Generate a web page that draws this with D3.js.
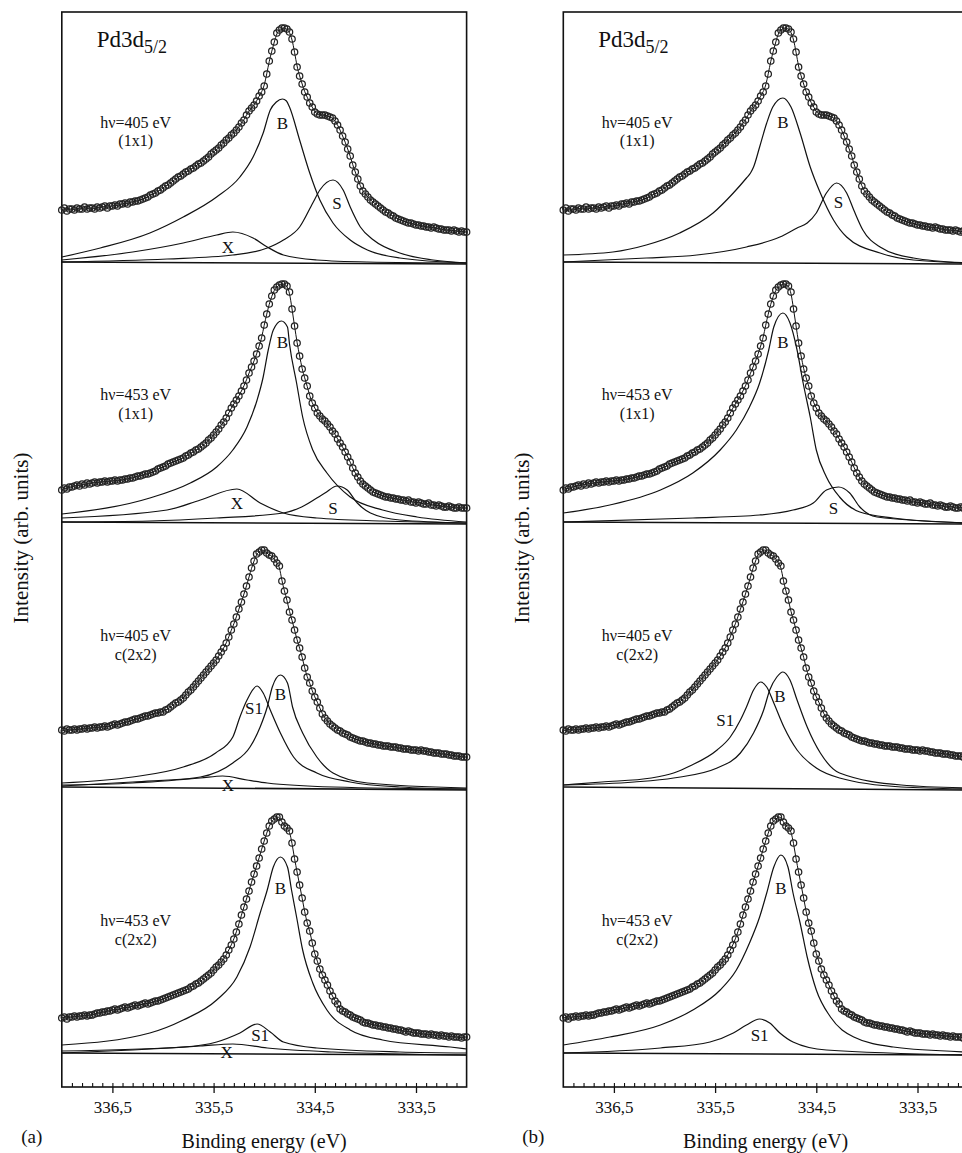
<!DOCTYPE html>
<html><head><meta charset="utf-8">
<script src="https://cdn.jsdelivr.net/npm/d3@7"></script>
<style>
body{margin:0;background:#fff}
text{font-family:"Liberation Serif","Times New Roman",serif;fill:#111}
</style>
</head><body><svg id="c" width="962" height="1153"></svg>
<script>
// ---------- DATA ----------
const energyStart = 337.0, energyStep = 0.025; // measured points, decreasing binding energy
const data1 = [54,56,53,55, 55,54,56,55, 55,57,55,56, 56,55,57,56, 57,58,56,58, 58,59,58,60, 60,61,60,62, 62,63,63,64, 65,66,67,69, 70,71,73,74,
 76,78,79,81, 83,85,87,88, 90,92,93,95, 96,98,100,101, 103,105,107,110, 112,114,116,119, 121,124,126,129, 131,134,137,141, 144,149,153,156, 159,163,168,172,
 178,190,203,213, 222,231,234,236, 236,235,232,225, 212,197,188,180, 172,167,161,157, 152,150,149,149, 149,148,147,146, 143,139,134,128, 122,115,108,99, 92,85,78,73,
 70,67,64,62, 60,58,56,54, 52,51,49,48, 46,45,44,43, 42,41,41,40, 39,39,38,38, 37,37,36,37, 36,35,35,34, 34,34,33,34, 33,32,33,32, 32];
const data2 = [34,36,35,37, 37,38,39,38, 40,39,41,40, 41,42,41,42, 42,43,42,43, 43,44,43,44, 44,45,45,46, 46,47,48,48, 49,50,50,51, 52,53,55,56,
 57,58,60,61, 62,63,64,65, 66,68,69,71, 72,74,75,77, 79,81,84,86, 89,92,95,99, 102,106,111,116, 120,124,128,133, 138,144,151,157, 163,170,178,186,
 199,210,220,228, 234,237,239,240, 240,238,232,215, 198,181,168,155, 146,138,128,121, 116,111,108,105, 103,100,97,93, 90,85,81,77, 72,67,62,56, 51,47,43,40,
 38,36,34,32, 31,30,29,28, 27,27,26,26, 25,25,24,24, 23,24,22,22, 21,22,21,20, 20,21,19,19, 18,19,18,17, 17,18,17,16, 16,17,16,16, 16];
const data3 = [60,59,61,60, 60,61,60,61, 61,62,61,62, 62,63,62,63, 63,64,63,64, 65,66,65,66, 67,68,68,69, 70,71,71,72, 73,74,74,75, 76,77,77,78,
 78,80,81,83, 85,87,88,90, 92,95,98,100, 103,106,109,112, 115,118,121,124, 127,130,134,138, 142,147,153,160, 166,173,181,188, 196,204,213,222, 229,236,238,240,
 240,237,235,234, 231,227,224,209, 199,190,178,170, 160,150,142,133, 122,113,107,99, 93,88,82,76, 72,69,66,64, 62,60,59,57, 56,55,53,52, 51,50,49,49,
 48,47,47,46, 46,45,45,44, 44,44,43,43, 43,42,42,41, 41,41,40,40, 40,39,40,39, 39,38,38,37, 37,37,36,36, 36,35,35,34, 34,34,33,33, 33];
const data4 = [37,38,36,38, 38,39,38,39, 39,40,39,40, 40,41,42,42, 43,43,44,44, 45,46,45,46, 47,48,47,48, 49,50,49,50, 51,52,51,52, 53,54,54,55,
 56,57,58,59, 60,61,62,63, 64,65,66,68, 69,71,72,74, 76,78,80,82, 85,88,90,93, 96,100,105,110, 116,123,131,140, 148,156,164,173, 181,189,197,206,
 214,222,229,234, 236,238,238,233, 229,227,224,212, 196,183,170,157, 143,132,124,112, 101,94,86,80, 75,70,64,59, 54,51,46,44, 43,41,40,38, 37,36,35,33,
 32,32,31,30, 30,29,29,28, 28,27,27,26, 26,25,25,24, 23,24,23,22, 22,22,21,21, 21,20,21,20, 20,19,20,19, 19,18,19,18, 18,18,17,18, 18];

// fitted components, [binding energy, intensity]
const a1B = [[337.00,7],[336.62,16],[336.13,31],[335.80,47],[335.47,67],[335.24,87],[335.11,107],[335.01,131],[334.94,154],[334.88,162],[334.82,165],[334.78,163],[334.75,157],[334.65,124],[334.55,91],[334.45,64],[334.32,41],[334.15,24],[333.98,14],[333.66,6],[333.00,1]];
const a1S = [[337.00,2],[335.96,5],[335.31,9],[334.97,16],[334.81,24],[334.65,37],[334.52,61],[334.45,74],[334.32,84],[334.22,74],[334.15,57],[334.05,37],[333.92,24],[333.66,11],[333.33,4],[333.00,1]];
const a1X = [[337.00,4],[336.30,12],[335.80,21],[335.47,29],[335.31,32],[335.11,26],[334.97,17],[334.81,9],[334.48,4],[333.98,2],[333.00,1]];
const a2B = [[337.00,10],[336.13,26],[335.73,41],[335.47,57],[335.31,74],[335.17,97],[335.07,124],[335.01,147],[334.96,174],[334.91,194],[334.83,203],[334.77,197],[334.75,180],[334.68,141],[334.62,107],[334.52,74],[334.38,51],[334.15,27],[333.83,14],[333.49,7],[333.00,2]];
const a2X = [[337.00,6],[335.96,14],[335.63,24],[335.27,35],[335.04,21],[334.81,11],[334.48,6],[333.83,3],[333.00,1]];
const a2S = [[337.00,2],[336.13,3],[335.47,6],[334.81,11],[334.63,17],[334.40,31],[334.28,38],[334.18,34],[334.08,21],[333.95,11],[333.66,4],[333.00,1]];
const a3S1 = [[337.00,7],[336.30,13],[335.80,23],[335.48,37],[335.31,53],[335.24,73],[335.17,90],[335.07,104],[335.01,97],[334.94,80],[334.84,57],[334.71,33],[334.48,17],[334.15,8],[333.66,3],[333.00,1]];
const a3B = [[337.00,5],[336.30,7],[335.63,13],[335.31,27],[335.14,43],[335.04,63],[334.97,83],[334.92,103],[334.84,115],[334.77,107],[334.72,83],[334.62,57],[334.48,33],[334.32,17],[333.98,7],[333.00,2]];
const a3X = [[337.00,4],[336.30,8],[335.63,12],[335.41,14],[335.17,10],[334.97,7],[334.32,3],[333.00,1]];
const a4B = [[337.00,10],[336.13,22],[335.80,35],[335.47,55],[335.27,78],[335.14,108],[335.04,142],[334.97,165],[334.91,188],[334.84,198],[334.77,188],[334.73,165],[334.68,138],[334.62,105],[334.52,72],[334.38,45],[334.15,25],[333.83,15],[333.16,8],[333.00,6]];
const a4S1 = [[337.00,4],[335.80,8],[335.47,13],[335.24,22],[335.07,31],[334.94,23],[334.81,13],[334.48,7],[333.66,3],[333.00,2]];
const a4X = [[337.00,2],[336.30,5],[335.63,9],[335.31,11],[334.97,7],[334.32,3],[333.00,0]];
const b1B = [[337.00,9],[336.51,12],[336.18,19],[335.85,31],[335.52,51],[335.32,71],[335.19,86],[335.15,91],[335.12,97],[335.06,117],[334.99,141],[334.93,157],[334.83,166],[334.75,157],[334.66,131],[334.56,97],[334.46,71],[334.33,44],[334.20,27],[333.87,11],[333.54,4],[333.00,1]];
const b1S = [[337.00,2],[336.18,6],[335.68,9],[335.19,17],[334.86,27],[334.69,36],[334.59,41],[334.50,51],[334.40,71],[334.30,81],[334.20,71],[334.13,54],[334.04,34],[333.87,17],[333.54,6],[333.00,1]];
const b2B = [[337.00,11],[336.54,19],[336.04,34],[335.72,51],[335.45,74],[335.29,94],[335.16,117],[335.06,141],[334.97,174],[334.92,197],[334.83,211],[334.76,201],[334.69,174],[334.63,141],[334.56,107],[334.50,74],[334.40,47],[334.27,27],[334.07,12],[333.74,6],[333.00,1]];
const b2S = [[337.00,2],[335.72,6],[335.06,9],[334.73,14],[334.53,21],[334.40,34],[334.28,37],[334.17,31],[334.07,17],[333.90,7],[333.00,1]];
const b3S1 = [[337.00,5],[336.62,8],[336.13,12],[335.91,17],[335.75,24],[335.48,40],[335.35,53],[335.25,70],[335.19,83],[335.12,100],[335.05,108],[334.99,103],[334.92,87],[334.82,63],[334.69,40],[334.50,22],[334.27,12],[333.66,3],[333.00,1]];
const b3B = [[337.00,5],[336.30,8],[335.91,12],[335.48,22],[335.25,37],[335.12,57],[335.02,80],[334.96,100],[334.89,113],[334.83,118],[334.76,110],[334.69,90],[334.59,63],[334.46,37],[334.27,17],[333.66,5],[333.00,2]];
const b4B = [[337.00,10],[336.54,18],[336.04,30],[335.72,45],[335.45,65],[335.29,85],[335.16,112],[335.06,138],[334.99,162],[334.92,188],[334.85,200],[334.78,188],[334.73,162],[334.66,132],[334.59,98],[334.50,65],[334.36,38],[334.13,18],[333.74,8],[333.00,3]];
const b4S1 = [[337.00,2],[336.04,7],[335.55,13],[335.32,22],[335.19,30],[335.06,36],[334.96,32],[334.86,22],[334.73,13],[334.40,5],[333.00,0]];
const baselineA = [[[337.0,2],[333.0,0]],[[337.0,2],[333.0,0]],[[337.0,3],[333.0,0]],[[337.0,2],[333.0,0]]];

const componentsA = [[a1B,a1S,a1X],[a2B,a2X,a2S],[a3S1,a3B,a3X],[a4B,a4S1,a4X]];
const componentsB = [[b1B,b1S],[b2B,b2S],[b3S1,b3B],[b4B,b4S1]];
const labelsA = [[["B",334.82,141],["S",334.28,61],["X",335.36,17]],
                 [["B",334.82,182],["X",335.27,21],["S",334.32,16]],
                 [["S1",335.10,82],["B",334.84,96],["X",335.36,5]],
                 [["B",334.84,167],["S1",335.04,20],["X",335.37,3]]];
const labelsB = [[["B",334.83,142],["S",334.28,62]],
                 [["B",334.83,182],["S",334.33,16]],
                 [["S1",335.40,70],["B",334.86,94]],
                 [["B",334.85,167],["S1",335.06,20]]];
const photonLabels = ["hν=405 eV","hν=453 eV","hν=405 eV","hν=453 eV"];
const phaseLabels = ["(1x1)","(1x1)","c(2x2)","c(2x2)"];
const annotLevels = [[136,118],[124,105],[149,130],[129,110]];
const spectraData = [data1,data2,data3,data4];
const offsets = [823,563,297,32];
const tickValues = [336.5,335.5,334.5,333.5];
const tickLabels = ["336,5","335,5","334,5","333,5"];
const panelNames = ["(a)","(b)"];

// ---------- DRAW ----------
const svg = d3.select("#c");
svg.append("rect").attr("width",962).attr("height",1153).attr("fill","#fff");
const frameTop = 12, frameBottom = 1087;
const y = d3.scaleLinear().domain([0,1075]).range([frameBottom, frameTop]);
const panels = [{left:61.8, comps:componentsA, labels:labelsA, base:baselineA},
                {left:563.3, comps:componentsB, labels:labelsB, base:baselineA}];
const W = 404.8;

panels.forEach((p,pi)=>{
  const x = d3.scaleLinear().domain([337,333]).range([p.left, p.left+W]);
  const g = svg.append("g");
  g.append("rect").attr("x",p.left).attr("y",frameTop).attr("width",W).attr("height",frameBottom-frameTop)
    .attr("fill","none").attr("stroke","#111").attr("stroke-width",1.6);
  const minor = d3.range(1,40).map(i=>+(333+i*0.1).toFixed(1));
  g.append("g").attr("transform",`translate(0,${frameBottom})`)
    .call(d3.axisBottom(x).tickValues(minor).tickSize(-4).tickFormat("").tickSizeOuter(0))
    .call(s=>{s.select(".domain").remove(); s.selectAll("line").attr("stroke","#111").attr("stroke-width",1.1);});
  g.append("g").attr("transform",`translate(0,${frameBottom})`)
    .call(d3.axisBottom(x).tickValues(tickValues).tickSize(6).tickPadding(8).tickSizeOuter(0)
      .tickFormat((d,i)=>tickLabels[i]))
    .call(s=>{s.select(".domain").remove(); s.selectAll("line").attr("stroke","#111").attr("stroke-width",1.3);
      s.selectAll("text").attr("font-size",17).attr("font-family","Liberation Serif").attr("fill","#111");});
  g.append("text").attr("x",p.left+W/2).attr("y",1148).attr("text-anchor","middle").attr("font-size",20).text("Binding energy (eV)");
  g.append("text").attr("x",p.left-30).attr("y",1143).attr("text-anchor","middle").attr("font-size",19).text(panelNames[pi]);
  g.append("text").attr("transform",`translate(${p.left-34},538) rotate(-90)`).attr("text-anchor","middle")
    .attr("font-size",21).text("Intensity (arb. units)");
  const t = g.append("text").attr("x",p.left+35).attr("y",47).attr("font-size",23);
  t.append("tspan").text("Pd3d");
  t.append("tspan").attr("font-size",18).attr("dy",6).text("5/2");

  spectraData.forEach((d,i)=>{
    const off = offsets[i];
    const line = d3.line().x(v=>x(v[0])).y(v=>y(off+v[1])).curve(d3.curveMonotoneX);
    g.append("path").attr("d",line(p.base[i])).attr("fill","none").attr("stroke","#111").attr("stroke-width",1.6);
    p.comps[i].forEach(c=>{
      g.append("path").attr("d",line(c)).attr("fill","none").attr("stroke","#111").attr("stroke-width",1.2);
    });
    const pts = d.map((v,k)=>[energyStart-k*energyStep, v]);
    g.append("path").attr("d",d3.line().x(v=>x(v[0])).y(v=>y(off+v[1])).curve(d3.curveBasis)(pts))
      .attr("fill","none").attr("stroke","#111").attr("stroke-width",1);
    g.append("g").selectAll("circle").data(pts).join("circle")
      .attr("cx",v=>x(v[0])).attr("cy",v=>y(off+v[1])).attr("r",3.2)
      .attr("fill","none").attr("stroke","#222").attr("stroke-width",1.25);
    p.labels[i].forEach(l=>{
      g.append("text").attr("x",x(l[1])).attr("y",y(off+l[2])).attr("dy","0.35em")
        .attr("text-anchor","middle").attr("font-size",17).text(l[0]);
    });
    g.append("text").attr("x",x(336.27)).attr("y",y(off+annotLevels[i][0])).attr("text-anchor","middle")
      .attr("font-size",16).text(photonLabels[i]);
    g.append("text").attr("x",x(336.27)).attr("y",y(off+annotLevels[i][1])).attr("text-anchor","middle")
      .attr("font-size",16).text(phaseLabels[i]);
  });
});
</script>
</body></html>
